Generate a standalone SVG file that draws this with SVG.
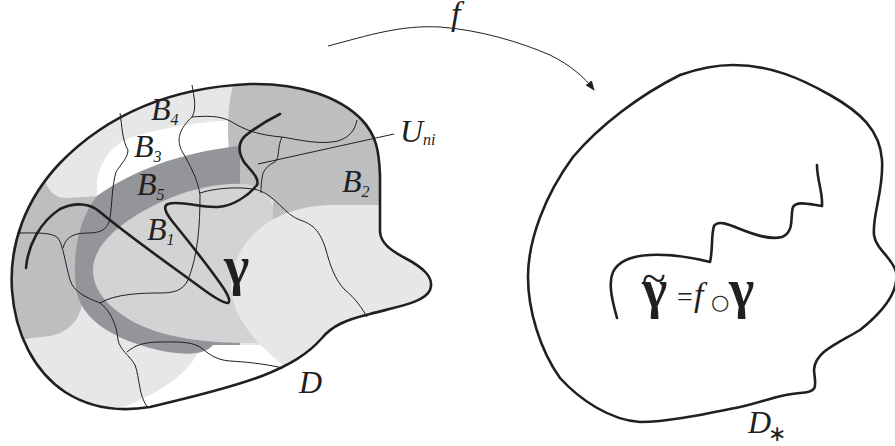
<svg xmlns="http://www.w3.org/2000/svg" width="895" height="446" viewBox="0 0 895 446">
<style>
.lbl{font-family:"Liberation Serif","Times New Roman",serif;font-style:italic;font-size:32px;fill:#231f20}
.sub{font-size:16px}
.gam{font-family:"Liberation Serif","Times New Roman",serif;font-weight:bold;font-size:54px;fill:#231f20}
.thin{fill:none;stroke:#231f20;stroke-width:1}
.thick{fill:none;stroke:#231f20;stroke-width:2.6;stroke-linecap:round;stroke-linejoin:round}
.bound{fill:none;stroke:#231f20;stroke-width:2.6;stroke-linejoin:round}
.light{fill:#e6e7e8}
.white{fill:#ffffff}
.mid{fill:#bcbec0}
.dark{fill:#939598}
.b1{fill:#d1d3d4}
</style>
<defs>
<path id="dPath" d="M 250,84 C 300,83 340,97 362,120 C 376,135 379,150 380,175 L 380,232 C 381,243 390,250 405,258 C 422,267 435,277 430,290 C 425,302 400,306 370,314 C 345,320 332,326 322,338 C 308,354 290,365 262,376 C 230,388 180,400 150,407 C 120,412 90,408 65,392 C 35,372 15,335 12,290 C 9,245 25,200 60,163 C 100,122 160,88 250,84 Z"/>
<clipPath id="dClip"><use href="#dPath"/></clipPath>
<marker id="arr" viewBox="0 0 10 8" markerWidth="10" markerHeight="8" refX="9" refY="4" orient="auto" markerUnits="userSpaceOnUse">
<path d="M0,0 L10,4 L0,8 Z" fill="#231f20"/>
</marker>
</defs>

<g id="domain-D">
<g clip-path="url(#dClip)">
<use href="#dPath" class="light"/>
<path class="white" d="M 97,205 L 97,182 C 99,165 110,145 130,138 C 160,128 200,121 240,120 L 240,170 Z"/>
<path class="white" d="M 200,345 C 195,370 160,395 110,412 L 300,412 L 300,345 Z"/>
<path class="mid" d="M 0,175 L 44,178 C 48,190 54,198 66,198 L 100,196 L 100,285 L 84,288 C 84,315 72,332 50,336 L 0,342 Z"/>
<path class="mid" d="M 236,78 C 226,100 225,150 235,183 L 273,200 L 273,280 L 440,280 L 440,78 Z"/>
<path class="dark" d="M 97,196 C 130,172 180,152 240,146 L 240,345 L 213,345 C 205,356 180,356 150,348 C 110,337 80,318 76,288 C 72,255 78,220 97,196 Z"/>
<path class="b1" d="M 273,290 L 273,210 C 272,195 262,185 245,184 C 220,183 195,188 170,198 C 130,215 95,240 93,268 C 92,292 112,312 142,326 C 172,339 210,343 250,343 L 300,343 L 300,290 Z"/>
<path class="light" d="M 231,285 C 232,250 262,207 330,205 L 440,205 L 440,420 L 290,420 L 290,370 C 255,345 231,315 231,285 Z"/>
</g>
<g id="region-lines">
<path class="thin" d="M 192,85 C 194,97 197,108 192,117"/>
<path class="thin" d="M 192,117 C 205,116 220,115 232,122 C 245,130 258,135 282,137 C 300,140 320,145 338,141 C 350,137 355,130 357,120"/>
<path class="thin" d="M 192,117 C 180,128 175,140 183,153 C 190,165 198,180 200,195 C 200,225 198,255 188,280 C 183,290 175,293 160,293 C 140,293 115,294 100,303"/>
<path class="thin" d="M 200,193 C 215,188 240,186 258,190 C 275,195 285,215 300,220 C 312,224 320,230 326,250 C 330,265 335,280 345,290 C 355,298 362,308 367,317"/>
<path class="thin" d="M 282,137 C 277,147 280,158 275,162 C 268,165 263,170 262,178 C 261,185 261,190 261,193"/>
<path class="thin" d="M 20,233 C 35,233 52,232 58,238 C 63,245 65,262 70,280 C 74,292 85,297 100,303 C 110,310 117,325 118,340 C 120,350 130,356 135,365 C 140,378 138,395 148,408"/>
<path class="thin" d="M 120,113 C 122,125 122,140 128,150 C 128,158 120,165 116,172 C 112,185 112,205 110,218 C 108,230 100,233 88,233 C 75,233 66,236 63,248"/>
<path class="thin" d="M 127,352 C 135,345 145,342 160,342 C 175,342 190,341 200,347 C 208,353 215,360 230,361 C 245,362 260,363 283,368"/>
</g>
<use href="#dPath" class="bound"/>
<path id="gamma-curve" class="thick" d="M 26,268 C 28,245 40,222 60,209 C 75,202 90,203 100,212 C 130,237 170,265 200,287 C 212,296 222,303 228,303 C 232,301 225,290 220,283 C 205,262 185,237 172,221 C 165,212 163,206 168,204 C 180,200 200,208 218,207 C 233,206 248,196 257,185 C 260,178 250,170 244,162 C 238,152 238,143 245,136 C 255,128 268,120 280,114"/>
<text class="lbl" x="151" y="120">B<tspan class="sub" dy="5">4</tspan></text>
<text class="lbl" x="134" y="157">B<tspan class="sub" dy="5">3</tspan></text>
<text class="lbl" x="137" y="195">B<tspan class="sub" dy="5">5</tspan></text>
<text class="lbl" x="147" y="240">B<tspan class="sub" dy="5">1</tspan></text>
<text class="lbl" x="342" y="192">B<tspan class="sub" dy="5">2</tspan></text>
<text class="lbl" x="400" y="142">U<tspan class="sub" dy="3">ni</tspan></text>
<text class="gam" x="224" y="284">γ</text>
<text class="lbl" x="299" y="393">D</text>
</g>

<g id="domain-Dstar">
<path class="bound" d="M 733,65 C 770,65 800,78 830,95 C 860,112 880,130 882,160 C 884,190 872,215 874,235 C 876,250 893,258 896,272 C 899,290 885,310 860,330 C 835,345 815,352 814,370 C 815,385 820,392 800,393 C 780,394 770,400 740,407 C 710,413 670,422 640,422 C 610,420 580,400 560,378 C 540,350 528,310 528,277 C 528,240 545,195 573,157 C 600,125 640,95 680,75 C 700,68 715,65 733,65 Z"/>
<path class="thick" d="M 617,318 C 612,300 608,283 613,272 C 618,262 630,256 650,255 C 670,254 690,257 710,262 C 713,250 711,235 714,226 C 718,220 728,224 740,229 C 755,235 770,240 782,237 C 795,232 790,215 793,207 C 797,200 812,205 822,206 C 823,193 817,180 817,165"/>
<text class="gam" x="642" y="307">γ</text>
<text x="642" y="293" style="font-family:'Liberation Serif',serif;font-size:44px;fill:#231f20">~</text>
<text x="677" y="306" style="font-family:'Liberation Serif',serif;font-size:28px;fill:#231f20">=</text>
<text class="lbl" x="694" y="306" style="font-size:34px">f</text>
<text x="711" y="309" style="font-family:'DejaVu Sans',sans-serif;font-size:21px;fill:#231f20">○</text>
<text class="gam" x="729" y="307">γ</text>
<text class="lbl" x="748" y="433">D</text>
<text x="768" y="441" style="font-family:'DejaVu Sans',sans-serif;font-size:22px;fill:#231f20">∗</text>
</g>

<g id="connectors">
<path class="thin" d="M 328,46 C 370,35 400,25 440,27 C 480,30 520,42 550,55 C 572,66 585,78 594,90" marker-end="url(#arr)"/>
<line class="thin" x1="258" y1="164" x2="394" y2="134"/>
<text class="lbl" x="451" y="25" style="font-size:34px">f</text>
</g>
</svg>
